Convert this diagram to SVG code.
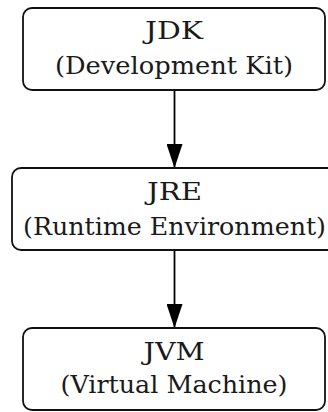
<svg xmlns="http://www.w3.org/2000/svg" width="328" height="412" viewBox="0 0 328 412">
<style>
.box{fill:#ffffff;stroke:#111111;stroke-width:1.8}
.t{font-family:'DejaVu Serif','Liberation Serif',serif;font-size:24px;fill:#1a1a1a;text-anchor:middle}
.edge{stroke:#000000;stroke-width:1.8;fill:none}
</style>
<defs>
<marker id="arr" viewBox="0 0 16 24" refX="8" refY="23" markerWidth="16" markerHeight="24" markerUnits="userSpaceOnUse" orient="0">
<path d="M0,0 L16,0 L8,24 Z" fill="#000000"/>
</marker>
</defs>
<rect width="328" height="412" fill="#ffffff"/>
<g id="edges">
<path class="edge" d="M174.5,90 L174.5,167" marker-end="url(#arr)"/>
<path class="edge" d="M174.5,250 L174.5,327" marker-end="url(#arr)"/>
</g>
<g id="jdk">
<rect class="box" x="23" y="8" width="302" height="82" rx="9"/>
<text class="t" x="174" y="39" textLength="58" lengthAdjust="spacingAndGlyphs">JDK</text>
<text class="t" x="174" y="74" textLength="238" lengthAdjust="spacingAndGlyphs">(Development Kit)</text>
</g>
<g id="jre">
<rect class="box" x="12" y="168" width="325" height="82" rx="9"/>
<text class="t" x="174.5" y="200" textLength="55" lengthAdjust="spacingAndGlyphs">JRE</text>
<text class="t" x="174.5" y="235" textLength="303" lengthAdjust="spacingAndGlyphs">(Runtime Environment)</text>
</g>
<g id="jvm">
<rect class="box" x="23" y="328" width="302" height="82" rx="9"/>
<text class="t" x="174" y="360" textLength="61" lengthAdjust="spacingAndGlyphs">JVM</text>
<text class="t" x="174" y="393" textLength="227" lengthAdjust="spacingAndGlyphs">(Virtual Machine)</text>
</g>
</svg>
